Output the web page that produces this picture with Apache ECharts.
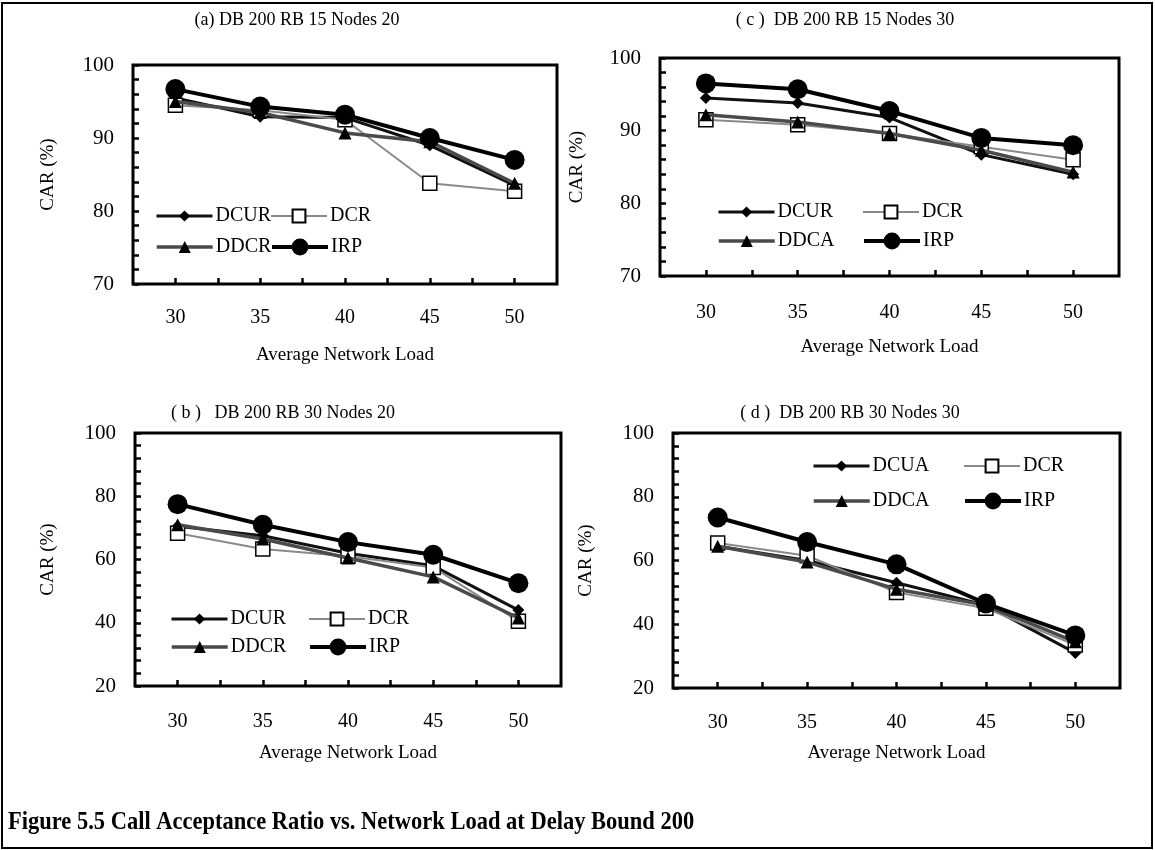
<!DOCTYPE html>
<html>
<head>
<meta charset="utf-8">
<style>
  html, body { margin: 0; padding: 0; background: #fff; }
  #main { width: 1155px; height: 850px; }
</style>
<script src="https://cdn.jsdelivr.net/npm/echarts@6/dist/echarts.min.js"></script>
</head>
<body>
<div id="main"></div>
<script>
var chart = echarts.init(document.getElementById('main'));

// x values (average network load)
var loads = [30, 35, 40, 45, 50];

// (a) DB 200 RB 15 Nodes 20
var aDCUR = [95.5, 92.9, 92.8, 89.0, 83.5];
var aDCR  = [94.5, 93.8, 92.5, 83.8, 82.7];
var aDDCR = [95.0, 93.5, 90.7, 89.5, 83.8];
var aIRP  = [96.7, 94.3, 93.2, 90.0, 87.0];

// (c) DB 200 RB 15 Nodes 30
var cDCUR = [94.5, 93.8, 91.8, 86.7, 84.0];
var cDCR  = [91.5, 90.8, 89.6, 87.8, 86.0];
var cDDCA = [92.2, 91.2, 89.6, 87.3, 84.3];
var cIRP  = [96.5, 95.7, 92.7, 89.0, 88.0];

// (b) DB 200 RB 30 Nodes 20
var bDCUR = [70.5, 67.5, 62.0, 58.0, 44.0];
var bDCR  = [68.3, 63.3, 61.0, 57.5, 40.5];
var bDDCR = [71.0, 66.5, 60.5, 54.5, 41.5];
var bIRP  = [77.5, 71.0, 65.5, 61.5, 52.5];

// (d) DB 200 RB 30 Nodes 30
var dDCUA = [64.5, 60.0, 53.0, 46.0, 31.0];
var dDCR  = [65.5, 61.5, 50.0, 45.0, 33.5];
var dDDCA = [64.5, 59.5, 51.0, 46.0, 34.5];
var dIRP  = [73.5, 65.8, 58.8, 46.5, 36.5];

var serif = '"Liberation Serif", "Times New Roman", serif';

var panels = [
  {
    title: '(a) DB 200 RB 15 Nodes 20', titleX: 292, titleY: 6,
    grid: { left: 133, top: 65, width: 424, height: 219 },
    yMin: 70, yMax: 100, yStep: 10, yNameGap: 75, xNameGap: 62, xLabelMargin: 24,
    names: ['DCUR', 'DCR', 'DDCR', 'IRP'],
    values: [aDCUR, aDCR, aDDCR, aIRP],
    legendX: [155, 270], legendY: [217, 248]
  },
  {
    title: '( c )  DB 200 RB 15 Nodes 30', titleX: 840, titleY: 6,
    grid: { left: 660, top: 58, width: 459, height: 218 },
    yMin: 70, yMax: 100, yStep: 10, yNameGap: 73, xNameGap: 62, xLabelMargin: 27,
    names: ['DCUR', 'DCR', 'DDCA', 'IRP'],
    values: [cDCUR, cDCR, cDDCA, cIRP],
    legendX: [717, 862], legendY: [213, 242]
  },
  {
    title: '( b )   DB 200 RB 30 Nodes 20', titleX: 278, titleY: 399,
    grid: { left: 135, top: 433, width: 426, height: 253 },
    yMin: 20, yMax: 100, yStep: 20, yNameGap: 77, xNameGap: 58, xLabelMargin: 26,
    names: ['DCUR', 'DCR', 'DDCR', 'IRP'],
    values: [bDCUR, bDCR, bDDCR, bIRP],
    legendX: [170, 308], legendY: [620, 648]
  },
  {
    title: '( d )  DB 200 RB 30 Nodes 30', titleX: 845, titleY: 399,
    grid: { left: 673, top: 433, width: 447, height: 255 },
    yMin: 20, yMax: 100, yStep: 20, yNameGap: 77, xNameGap: 56, xLabelMargin: 25,
    names: ['DCUA', 'DCR', 'DDCA', 'IRP'],
    values: [dDCUA, dDCR, dDDCA, dIRP],
    legendX: [812, 963], legendY: [467, 502]
  }
];

// line / marker look for the 4 methods, in the order of names above
var looks = [
  { symbol: 'diamond', size: 12, line: '#111', width: 3, fill: '#000', border: '#000', legendH: 14 },
  { symbol: 'rect', size: 14, line: '#8a8a8a', width: 2, fill: '#fff', border: '#000', legendH: 16 },
  { symbol: 'triangle', size: 13, line: '#4a4a4a', width: 3.5, fill: '#000', border: '#000', legendH: 15 },
  { symbol: 'circle', size: 20, line: '#000', width: 4, fill: '#000', border: '#000', legendH: 21 }
];

var titles = [];
var grids = [];
var xAxes = [];
var yAxes = [];
var series = [];
var legends = [];

panels.forEach(function (p, i) {
  titles.push({
    text: p.title,
    left: p.titleX, top: p.titleY,
    textAlign: 'center',
    textStyle: { fontFamily: serif, fontSize: 18, fontWeight: 'normal', color: '#000' }
  });
  grids.push({
    left: p.grid.left, top: p.grid.top, width: p.grid.width, height: p.grid.height,
    show: true, borderColor: '#000', borderWidth: 3, backgroundColor: 'transparent'
  });
  xAxes.push({
    gridIndex: i,
    type: 'value',
    min: 27.5, max: 52.5, interval: 2.5,
    name: 'Average Network Load',
    nameLocation: 'middle',
    nameGap: p.xNameGap,
    nameTextStyle: { fontFamily: serif, fontSize: 19, color: '#000' },
    axisLine: { show: false },
    axisTick: { show: true, inside: true, length: 6, lineStyle: { color: '#000', width: 2.5 } },
    axisLabel: {
      margin: p.xLabelMargin,
      fontFamily: serif, fontSize: 20, color: '#000',
      showMinLabel: false, showMaxLabel: false,
      formatter: function (v) { return v % 5 === 0 ? String(v) : ''; }
    },
    splitLine: { show: false }
  });
  yAxes.push({
    gridIndex: i,
    type: 'value',
    min: p.yMin, max: p.yMax, interval: p.yStep,
    name: 'CAR (%)',
    nameLocation: 'middle',
    nameRotate: 90,
    nameGap: p.yNameGap,
    nameTextStyle: { fontFamily: serif, fontSize: 19, color: '#000' },
    axisLine: { show: false },
    axisTick: { show: true, inside: true, length: 6, lineStyle: { color: '#000', width: 2.5 } },
    minorTick: { show: true, splitNumber: 5, length: 6, lineStyle: { color: '#000', width: 2.5 } },
    axisLabel: { margin: 19, fontFamily: serif, fontSize: 21, color: '#000' },
    splitLine: { show: false }
  });

  p.names.forEach(function (name, k) {
    var lk = looks[k];
    series.push({
      name: name,
      type: 'line',
      xAxisIndex: i,
      yAxisIndex: i,
      symbol: lk.symbol,
      symbolSize: lk.size,
      showAllSymbol: true,
      lineStyle: { color: lk.line, width: lk.width },
      itemStyle: { color: lk.fill, borderColor: lk.border, borderWidth: k === 1 ? 1.5 : 0 },
      emphasis: { disabled: true },
      z: 2 + k,
      data: loads.map(function (x, j) { return [x, p.values[k][j]]; })
    });
    // one legend per item so each sits where the original has it
    var col = k % 2, row = Math.floor(k / 2);
    legends.push({
      data: [name],
      left: p.legendX[col],
      top: p.legendY[row] - 11,
      padding: 0,
      itemWidth: 56,
      itemHeight: lk.legendH,
      itemGap: 4,
      selectedMode: false,
      lineStyle: { color: lk.line, width: lk.width },
      textStyle: { fontFamily: serif, fontSize: 20, color: '#000', padding: [0, 0, 0, -2] }
    });
  });
});

var option = {
  backgroundColor: '#fff',
  animation: false,
  title: titles,
  grid: grids,
  xAxis: xAxes,
  yAxis: yAxes,
  legend: legends,
  series: series,
  graphic: [
    {
      type: 'rect',
      shape: { x: 2, y: 3, width: 1150, height: 845 },
      style: { fill: 'none', stroke: '#000', lineWidth: 2 },
      silent: true
    },
    {
      type: 'text',
      x: 8, y: 809,
      scaleX: 0.865,
      style: {
        text: 'Figure 5.5 Call Acceptance Ratio vs. Network Load at Delay Bound 200',
        font: 'bold 26px "Liberation Serif", serif',
        fill: '#000'
      },
      silent: true
    }
  ]
};

chart.setOption(option);
</script>
</body>
</html>
